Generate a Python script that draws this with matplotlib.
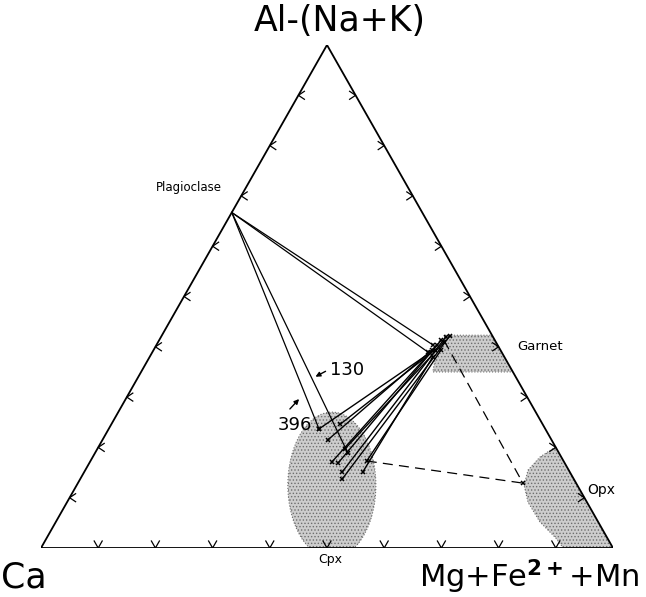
import numpy as np
import matplotlib
matplotlib.use('Agg')
import matplotlib.pyplot as plt
from matplotlib.patches import Polygon, Ellipse

plt.rcParams['font.family'] = ['DejaVu Sans']
plt.rcParams['hatch.linewidth'] = 0.6

# compositions as (Ca, Mg+Fe2+ +Mn, Al-(Na+K)), in percent
plag = (33.3, 0.0, 66.7)

grt_ca = [12.6, 12.0, 11.4, 10.6, 9.4, 9.1, 8.2, 7.4, 12.5, 10.4]
grt_mg = [48.6, 48.7, 49.2, 49.1, 49.3, 50.0, 49.8, 50.4, 49.5, 50.3]
grt_al = [38.8, 39.4, 39.4, 40.4, 41.3, 40.9, 42.0, 42.2, 38.0, 39.4]

cpx_ca = [39.6, 39.1, 35.4, 40.6, 39.6, 37.0, 39.8, 40.5, 36.2, 34.4]
cpx_mg = [36.8, 39.4, 40.0, 42.3, 43.5, 43.3, 45.1, 45.8, 48.7, 48.3]
cpx_al = [23.7, 21.5, 24.6, 17.1, 16.9, 19.7, 15.1, 13.7, 15.1, 17.3]

# plagioclase tie lines
plag_grt = [(11.3, 48.4, 40.4), (12.9, 48.2, 39.0)]
plag_cpx = [(39.6, 36.8, 23.7), (36.9, 44.2, 18.9)]

# garnet - opx - cpx (dashed)
grt_dash = (8.9, 49.8, 41.3)
opx_pt = (9.3, 77.8, 12.9)
cpx_dash = (34.4, 48.3, 17.3)

# mineral fields
grt_field = [(8.2, 49.5, 42.3), (0.0, 57.7, 42.3), (0.0, 65.0, 35.0),
             (14.0, 51.0, 35.0), (11.8, 49.9, 38.4)]
opx_field = [(0.0, 79.9, 20.1), (3.7, 78.2, 18.1), (7.1, 77.4, 15.5),
             (9.3, 78.2, 12.5), (10.3, 80.6, 9.1), (10.2, 84.7, 5.2),
             (9.0, 89.0, 2.0), (8.7, 91.3, 0.0), (0.0, 100.0, 0.0)]
cpx_center = (42.9, 44.6, 12.5)


def tern(ca, mg, al):
    s = ca + mg + al
    mg, al = mg / s, al / s
    return mg + al / 2.0, al


W, H = 646, 597
fig = plt.figure(figsize=(W / 100, H / 100), dpi=100)
ax = fig.add_axes([41 / W, 49 / H, 572 / W, 503 / H])
ax.set_xlim(0, 1)
ax.set_ylim(0, 1)
ax.axis('off')
px = 1 / 572.0
py = 1 / 503.0

tri = Polygon([(0, 0), (1, 0), (0.5, 1)], closed=True, fill=False,
              edgecolor='black', lw=1.3, zorder=5)
ax.add_patch(tri)
clip = Polygon([(0, 0), (1, 0), (0.5, 1)], closed=True, transform=ax.transData)

stip = dict(facecolor='#cdcdcd', edgecolor='#6e6e6e', hatch='.....',
            lw=0.8, ls=':', zorder=1)
gp = Polygon([tern(*c) for c in grt_field], closed=True, **stip)
ax.add_patch(gp)
gp.set_clip_path(clip)
op = Polygon([tern(*c) for c in opx_field], closed=True, **stip)
ax.add_patch(op)
op.set_clip_path(clip)
cx, cy = tern(*cpx_center)
ce = Ellipse((cx, cy), width=88 * px, height=146 * py, **stip)
ax.add_patch(ce)
ce.set_clip_path(clip)

# tick chevrons every 10 %
for k in range(1, 10):
    f = k / 10.0
    x, y = f, 0.0
    ax.plot([x - 4 * px, x, x + 4 * px], [y + 7 * py, y, y + 7 * py], color='black', lw=0.9, zorder=5)
    x, y = f / 2.0, f
    ax.plot([x + 6 * px, x, x + 6 * px], [y + 4 * py, y, y - 4 * py], color='black', lw=0.9, zorder=5)
    x, y = 1 - f / 2.0, f
    ax.plot([x - 6 * px, x, x - 6 * px], [y + 4 * py, y, y - 4 * py], color='black', lw=0.9, zorder=5)

# garnet - clinopyroxene tie lines
for i in range(len(grt_ca)):
    gx, gy = tern(grt_ca[i], grt_mg[i], grt_al[i])
    cx_, cy_ = tern(cpx_ca[i], cpx_mg[i], cpx_al[i])
    ax.plot([gx, cx_], [gy, cy_], color='black', lw=1.0, zorder=3)
    ax.plot([gx, cx_], [gy, cy_], ls='none', marker='x', ms=3.5, mew=1.1,
            color='black', zorder=4)

# plagioclase tie lines
plx, ply = tern(*plag)
for c in plag_grt + plag_cpx:
    x, y = tern(*c)
    ax.plot([plx, x], [ply, y], color='black', lw=0.9, zorder=3)
    ax.plot([x], [y], ls='none', marker='x', ms=3.5, mew=1.1, color='black', zorder=4)

ox, oy = tern(*opx_pt)
for c in (grt_dash, cpx_dash):
    x, y = tern(*c)
    ax.plot([x, ox], [y, oy], color='black', lw=0.9, dashes=(8, 5), zorder=3)
ax.plot([ox], [oy], ls='none', marker='x', ms=3.5, mew=1.1, color='black', zorder=4)

# sample arrows
ax.annotate('', xy=(272 * px, (548 - 378) * py), xytext=(287 * px, (548 - 370) * py),
            arrowprops=dict(arrowstyle='-|>', color='black', lw=1.0, mutation_scale=7))
ax.annotate('', xy=(260 * px, (548 - 397) * py), xytext=(247 * px, (548 - 411) * py),
            arrowprops=dict(arrowstyle='-|>', color='black', lw=1.0, mutation_scale=7))


def ft(x, y):
    return x / W, 1 - y / H


fig.text(*ft(340, 21), 'Al-(Na+K)', fontsize=25, ha='center', va='center')
fig.text(*ft(24, 577), 'Ca', fontsize=25, ha='center', va='center')
fig.text(*ft(529, 577), r'Mg+Fe$^{\mathbf{2+}}$+Mn', fontsize=22, ha='center', va='center')
fig.text(*ft(222, 187), 'Plagioclase', fontsize=8.5, ha='right', va='center')
fig.text(*ft(517, 346), 'Garnet', fontsize=9.5, ha='left', va='center')
fig.text(*ft(587, 490), 'Opx', fontsize=10, ha='left', va='center')
fig.text(*ft(330, 559), 'Cpx', fontsize=9, ha='center', va='center')
fig.text(*ft(330, 370), '130', fontsize=13, ha='left', va='center')
fig.text(*ft(295, 425), '396', fontsize=13, ha='center', va='center')

fig.savefig('out.png', dpi=100)
